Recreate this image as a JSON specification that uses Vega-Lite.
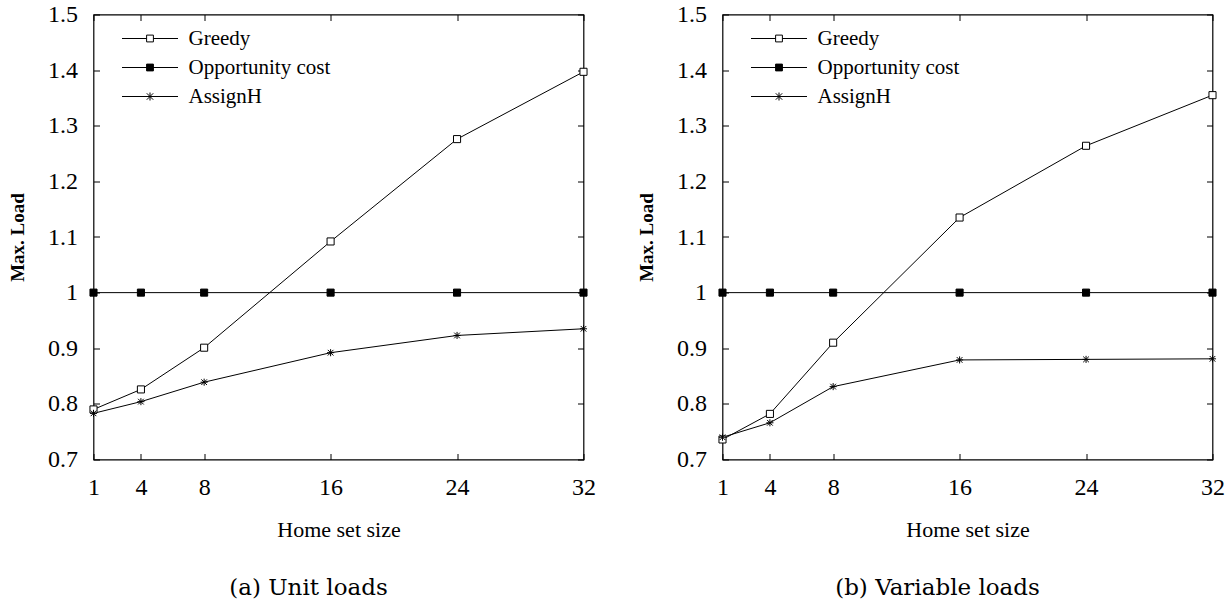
{
  "$schema": "https://vega.github.io/schema/vega-lite/v6.json",
  "background": "white",
  "padding": {"left": 7.5, "top": 1.5, "right": 5, "bottom": 5},
  "config": {
    "font": "Liberation Serif",
    "view": {"stroke": "black", "strokeWidth": 1.2},
    "axis": {
      "domain": false, "grid": false, "ticks": true, "tickSize": -6, "tickColor": "black", "tickWidth": 1,
      "labelColor": "black", "labelFont": "Liberation Serif", "labelFontSize": 24,
      "labelFlush": false, "labelOverlap": false, "titleColor": "black"
    }
  },
  "datasets": {
    "loads": [
      {"panel": "a", "series": "Greedy", "size": 1, "load": 0.790},
      {"panel": "a", "series": "Greedy", "size": 4, "load": 0.826},
      {"panel": "a", "series": "Greedy", "size": 8, "load": 0.901},
      {"panel": "a", "series": "Greedy", "size": 16, "load": 1.092},
      {"panel": "a", "series": "Greedy", "size": 24, "load": 1.276},
      {"panel": "a", "series": "Greedy", "size": 32, "load": 1.397},
      {"panel": "a", "series": "Opportunity cost", "size": 1, "load": 1.0},
      {"panel": "a", "series": "Opportunity cost", "size": 4, "load": 1.0},
      {"panel": "a", "series": "Opportunity cost", "size": 8, "load": 1.0},
      {"panel": "a", "series": "Opportunity cost", "size": 16, "load": 1.0},
      {"panel": "a", "series": "Opportunity cost", "size": 24, "load": 1.0},
      {"panel": "a", "series": "Opportunity cost", "size": 32, "load": 1.0},
      {"panel": "a", "series": "AssignH", "size": 1, "load": 0.783},
      {"panel": "a", "series": "AssignH", "size": 4, "load": 0.804},
      {"panel": "a", "series": "AssignH", "size": 8, "load": 0.839},
      {"panel": "a", "series": "AssignH", "size": 16, "load": 0.892},
      {"panel": "a", "series": "AssignH", "size": 24, "load": 0.923},
      {"panel": "a", "series": "AssignH", "size": 32, "load": 0.935},
      {"panel": "b", "series": "Greedy", "size": 1, "load": 0.736},
      {"panel": "b", "series": "Greedy", "size": 4, "load": 0.782},
      {"panel": "b", "series": "Greedy", "size": 8, "load": 0.910},
      {"panel": "b", "series": "Greedy", "size": 16, "load": 1.135},
      {"panel": "b", "series": "Greedy", "size": 24, "load": 1.264},
      {"panel": "b", "series": "Greedy", "size": 32, "load": 1.355},
      {"panel": "b", "series": "Opportunity cost", "size": 1, "load": 1.0},
      {"panel": "b", "series": "Opportunity cost", "size": 4, "load": 1.0},
      {"panel": "b", "series": "Opportunity cost", "size": 8, "load": 1.0},
      {"panel": "b", "series": "Opportunity cost", "size": 16, "load": 1.0},
      {"panel": "b", "series": "Opportunity cost", "size": 24, "load": 1.0},
      {"panel": "b", "series": "Opportunity cost", "size": 32, "load": 1.0},
      {"panel": "b", "series": "AssignH", "size": 1, "load": 0.740},
      {"panel": "b", "series": "AssignH", "size": 4, "load": 0.766},
      {"panel": "b", "series": "AssignH", "size": 8, "load": 0.831},
      {"panel": "b", "series": "AssignH", "size": 16, "load": 0.879},
      {"panel": "b", "series": "AssignH", "size": 24, "load": 0.880},
      {"panel": "b", "series": "AssignH", "size": 32, "load": 0.881}
    ]
  },
  "bounds": "flush",
  "spacing": 139,
  "resolve": {"scale": {"shape": "independent", "fill": "independent", "stroke": "independent"}, "legend": {"shape": "independent"}},
  "hconcat": [
    {
      "width": 490, "height": 445,
      "title": {"text": "(a) Unit loads", "orient": "bottom", "frame": "group", "anchor": "middle", "dx": -30, "font": "DejaVu Serif", "fontSize": 23, "fontWeight": "normal", "offset": 36, "color": "black"},
      "data": {"name": "loads"},
      "transform": [{"filter": "datum.panel == 'a'"}],
      "resolve": {"axis": {"x": "independent", "y": "independent"}},
      "layer": [
        {
          "mark": {"type": "line", "color": "black", "strokeWidth": 1},
          "encoding": {
            "x": {"field": "size", "type": "quantitative", "scale": {"domain": [1, 32], "nice": false, "zero": false},
                  "axis": {"orient": "bottom", "values": [1, 4, 8, 16, 24, 32], "title": "Home set size", "titleFont": "Liberation Serif", "titleFontSize": 22, "titleFontWeight": "normal", "labelPadding": 22, "titlePadding": 20}},
            "y": {"field": "load", "type": "quantitative", "scale": {"domain": [0.7, 1.5], "nice": false, "zero": false},
                  "axis": {"orient": "left", "values": [0.7, 0.8, 0.9, 1.0, 1.1, 1.2, 1.3, 1.4, 1.5], "format": ".1~f", "title": "Max. Load", "titleFont": "Liberation Serif", "titleFontWeight": "bold", "titleFontSize": 19, "labelPadding": 22, "titlePadding": 20}},
            "detail": {"field": "series", "type": "nominal"}
          }
        },
        {
          "transform": [{"filter": "datum.series == 'Greedy'"}],
          "mark": {"type": "point", "shape": "square", "filled": true, "fill": "white", "stroke": "black", "strokeWidth": 1, "size": 50, "opacity": 1},
          "encoding": {
            "x": {"field": "size", "type": "quantitative", "axis": {"orient": "top", "values": [1, 4, 8, 16, 24, 32], "labels": false, "title": null}},
            "y": {"field": "load", "type": "quantitative", "axis": {"orient": "right", "values": [0.7, 0.8, 0.9, 1.0, 1.1, 1.2, 1.3, 1.4, 1.5], "labels": false, "title": null}}
          }
        },
        {
          "transform": [{"filter": "datum.series == 'Opportunity cost'"}],
          "mark": {"type": "point", "shape": "square", "filled": true, "fill": "black", "stroke": "black", "strokeWidth": 1, "size": 50, "opacity": 1},
          "encoding": {
            "x": {"field": "size", "type": "quantitative", "axis": null},
            "y": {"field": "load", "type": "quantitative", "axis": null}
          }
        },
        {
          "transform": [{"filter": "datum.series == 'AssignH'"}],
          "mark": {"type": "point", "shape": "M0,-1V1M-1,0H1M-0.8,-0.8L0.8,0.8M-0.8,0.8L0.8,-0.8", "filled": false, "stroke": "black", "strokeWidth": 1, "size": 50, "opacity": 1},
          "encoding": {
            "x": {"field": "size", "type": "quantitative", "axis": null},
            "y": {"field": "load", "type": "quantitative", "axis": null}
          }
        },
        {
          "transform": [{"filter": "datum.size < 0"}],
          "mark": {"type": "point", "filled": true, "strokeWidth": 1, "size": 64, "opacity": 1},
          "encoding": {
            "x": {"field": "size", "type": "quantitative", "axis": null},
            "y": {"field": "load", "type": "quantitative", "axis": null},
            "shape": {"field": "series", "type": "nominal",
                      "scale": {"domain": ["Greedy", "Opportunity cost", "AssignH"],
                                "range": ["M-7,0H-0.85M0.85,0H7M-0.85,-0.85H0.85V0.85H-0.85Z", "M-7,0H7M-0.85,-0.85H0.85V0.85H-0.85Z", "M-7,0H7M0,-1V1M-0.8,-0.8L0.8,0.8M-0.8,0.8L0.8,-0.8"]},
                      "legend": {"title": null, "orient": "none", "legendX": 46, "legendY": 13.5, "padding": 0,
                                 "symbolSize": 64, "symbolStrokeWidth": 1, "symbolStrokeColor": "black", "symbolOpacity": 1,
                                 "labelFont": "Liberation Serif", "labelFontSize": 21, "labelColor": "black", "labelOffset": 28, "rowPadding": 7}},
            "fill": {"field": "series", "type": "nominal",
                     "scale": {"domain": ["Greedy", "Opportunity cost", "AssignH"], "range": ["white", "black", "white"]}, "legend": null},
            "stroke": {"field": "series", "type": "nominal",
                     "scale": {"domain": ["Greedy", "Opportunity cost", "AssignH"], "range": ["black", "black", "black"]}, "legend": null}
          }
        }
      ]
    },
    {
      "width": 490, "height": 445,
      "title": {"text": "(b) Variable loads", "orient": "bottom", "frame": "group", "anchor": "middle", "dx": -30, "font": "DejaVu Serif", "fontSize": 23, "fontWeight": "normal", "offset": 36, "color": "black"},
      "data": {"name": "loads"},
      "transform": [{"filter": "datum.panel == 'b'"}],
      "resolve": {"axis": {"x": "independent", "y": "independent"}},
      "layer": [
        {
          "mark": {"type": "line", "color": "black", "strokeWidth": 1},
          "encoding": {
            "x": {"field": "size", "type": "quantitative", "scale": {"domain": [1, 32], "nice": false, "zero": false},
                  "axis": {"orient": "bottom", "values": [1, 4, 8, 16, 24, 32], "title": "Home set size", "titleFont": "Liberation Serif", "titleFontSize": 22, "titleFontWeight": "normal", "labelPadding": 22, "titlePadding": 20}},
            "y": {"field": "load", "type": "quantitative", "scale": {"domain": [0.7, 1.5], "nice": false, "zero": false},
                  "axis": {"orient": "left", "values": [0.7, 0.8, 0.9, 1.0, 1.1, 1.2, 1.3, 1.4, 1.5], "format": ".1~f", "title": "Max. Load", "titleFont": "Liberation Serif", "titleFontWeight": "bold", "titleFontSize": 19, "labelPadding": 22, "titlePadding": 20}},
            "detail": {"field": "series", "type": "nominal"}
          }
        },
        {
          "transform": [{"filter": "datum.series == 'Greedy'"}],
          "mark": {"type": "point", "shape": "square", "filled": true, "fill": "white", "stroke": "black", "strokeWidth": 1, "size": 50, "opacity": 1},
          "encoding": {
            "x": {"field": "size", "type": "quantitative", "axis": {"orient": "top", "values": [1, 4, 8, 16, 24, 32], "labels": false, "title": null}},
            "y": {"field": "load", "type": "quantitative", "axis": {"orient": "right", "values": [0.7, 0.8, 0.9, 1.0, 1.1, 1.2, 1.3, 1.4, 1.5], "labels": false, "title": null}}
          }
        },
        {
          "transform": [{"filter": "datum.series == 'Opportunity cost'"}],
          "mark": {"type": "point", "shape": "square", "filled": true, "fill": "black", "stroke": "black", "strokeWidth": 1, "size": 50, "opacity": 1},
          "encoding": {
            "x": {"field": "size", "type": "quantitative", "axis": null},
            "y": {"field": "load", "type": "quantitative", "axis": null}
          }
        },
        {
          "transform": [{"filter": "datum.series == 'AssignH'"}],
          "mark": {"type": "point", "shape": "M0,-1V1M-1,0H1M-0.8,-0.8L0.8,0.8M-0.8,0.8L0.8,-0.8", "filled": false, "stroke": "black", "strokeWidth": 1, "size": 50, "opacity": 1},
          "encoding": {
            "x": {"field": "size", "type": "quantitative", "axis": null},
            "y": {"field": "load", "type": "quantitative", "axis": null}
          }
        },
        {
          "transform": [{"filter": "datum.size < 0"}],
          "mark": {"type": "point", "filled": true, "strokeWidth": 1, "size": 64, "opacity": 1},
          "encoding": {
            "x": {"field": "size", "type": "quantitative", "axis": null},
            "y": {"field": "load", "type": "quantitative", "axis": null},
            "shape": {"field": "series", "type": "nominal",
                      "scale": {"domain": ["Greedy", "Opportunity cost", "AssignH"],
                                "range": ["M-7,0H-0.85M0.85,0H7M-0.85,-0.85H0.85V0.85H-0.85Z", "M-7,0H7M-0.85,-0.85H0.85V0.85H-0.85Z", "M-7,0H7M0,-1V1M-0.8,-0.8L0.8,0.8M-0.8,0.8L0.8,-0.8"]},
                      "legend": {"title": null, "orient": "none", "legendX": 46, "legendY": 13.5, "padding": 0,
                                 "symbolSize": 64, "symbolStrokeWidth": 1, "symbolStrokeColor": "black", "symbolOpacity": 1,
                                 "labelFont": "Liberation Serif", "labelFontSize": 21, "labelColor": "black", "labelOffset": 28, "rowPadding": 7}},
            "fill": {"field": "series", "type": "nominal",
                     "scale": {"domain": ["Greedy", "Opportunity cost", "AssignH"], "range": ["white", "black", "white"]}, "legend": null},
            "stroke": {"field": "series", "type": "nominal",
                     "scale": {"domain": ["Greedy", "Opportunity cost", "AssignH"], "range": ["black", "black", "black"]}, "legend": null}
          }
        }
      ]
    }
  ]
}
